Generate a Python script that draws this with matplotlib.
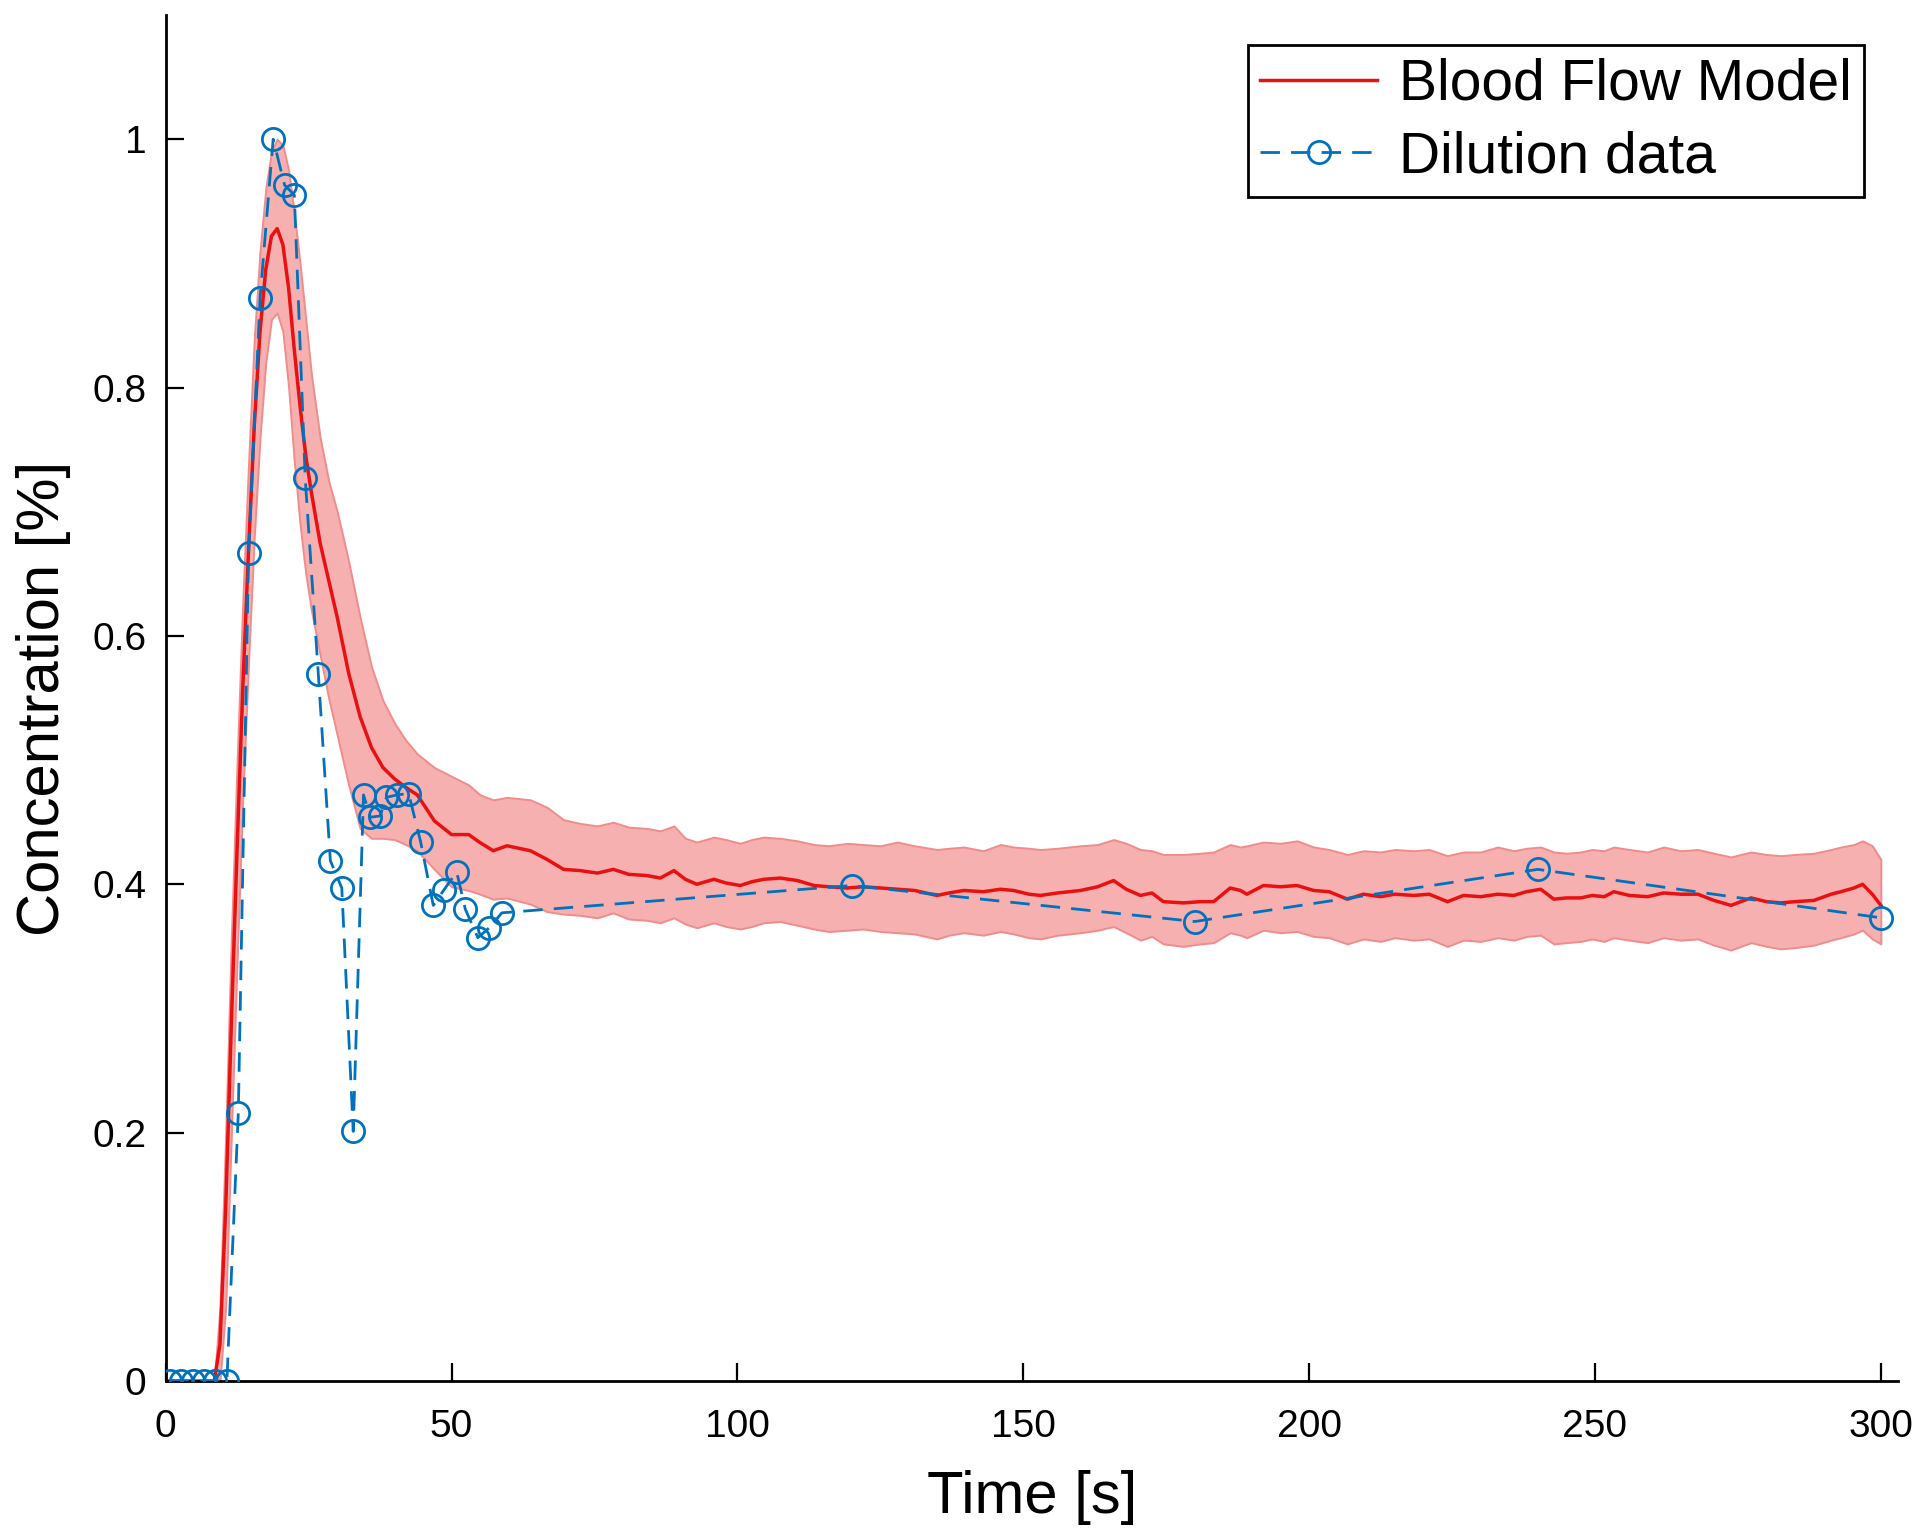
import matplotlib
matplotlib.use("Agg")
import matplotlib.pyplot as plt

# ---------------- data ----------------
model_t = [0, 8.5, 9.5, 10.5, 11.5, 12.5, 13.5, 14.5, 15.5, 16.5, 17.5, 18.5, 19.5, 20.5,
           21.5, 22.5, 23.5, 24.5, 25.5, 27, 28.5, 30, 32, 34, 36, 38, 40, 42, 44, 47, 50,
           53, 55, 57.3, 59.7, 63.8, 66.7, 69.6, 72.5, 75.5, 78.3, 81, 84.2, 86.5, 88.9,
           90.9, 92.9, 95.9, 98, 100.5, 102.5, 104.6, 107.5, 110.5, 113.4, 116, 119.2, 122,
           125, 128, 131, 134.9, 137, 139.6, 143, 146, 148.3, 151, 153, 156, 160, 163, 165.8,
           168, 170.5, 172.5, 174.5, 178, 181, 183.3, 186.2, 188, 189.1, 192, 195, 197.9,
           200.8, 203.5, 206.7, 209.5, 212.5, 215, 218.3, 221, 224.2, 227, 230, 233, 235.8,
           238, 240.5, 242.8, 245, 247.5, 249.5, 251.6, 253.3, 256, 259.2, 262, 265, 268,
           270.8, 273.8, 275.5, 277.3, 280, 282.5, 285, 288.3, 291.3, 293, 295.3, 296.8,
           298.5, 300]
model_mean = [0, 0, 0.03, 0.14, 0.29, 0.43, 0.56, 0.67, 0.77, 0.845, 0.895, 0.922, 0.928, 0.915,
              0.88, 0.83, 0.785, 0.745, 0.715, 0.675, 0.645, 0.615, 0.57, 0.535, 0.51, 0.494,
              0.485, 0.478, 0.472, 0.451, 0.44, 0.44, 0.4335, 0.427, 0.431, 0.427, 0.420,
              0.412, 0.411, 0.409, 0.412, 0.408, 0.407, 0.405, 0.411, 0.404, 0.400, 0.404,
              0.401, 0.399, 0.402, 0.404, 0.405, 0.403, 0.399, 0.398, 0.397, 0.398, 0.397,
              0.396, 0.395, 0.391, 0.393, 0.395, 0.394, 0.396, 0.395, 0.392, 0.391, 0.393,
              0.395, 0.398, 0.403, 0.396, 0.391, 0.393, 0.386, 0.385, 0.386, 0.386, 0.397,
              0.395, 0.392, 0.399, 0.398, 0.399, 0.395, 0.394, 0.388, 0.392, 0.390, 0.392,
              0.391, 0.392, 0.386, 0.391, 0.390, 0.392, 0.391, 0.394, 0.396, 0.388, 0.389,
              0.389, 0.391, 0.390, 0.394, 0.391, 0.390, 0.393, 0.392, 0.392, 0.387, 0.383,
              0.386, 0.389, 0.386, 0.385, 0.386, 0.387, 0.392, 0.394, 0.397, 0.400, 0.392,
              0.383]
model_upper = [0, 0, 0.06, 0.2, 0.36, 0.5, 0.63, 0.74, 0.84, 0.91, 0.96, 0.99, 1.0, 0.995,
               0.975, 0.94, 0.9, 0.855, 0.81, 0.76, 0.725, 0.7, 0.66, 0.615, 0.575, 0.548,
               0.53, 0.516, 0.505, 0.494, 0.487, 0.48, 0.472, 0.468, 0.47, 0.468, 0.462,
               0.452, 0.449, 0.447, 0.450, 0.446, 0.445, 0.443, 0.447, 0.437, 0.434, 0.438,
               0.436, 0.433, 0.436, 0.438, 0.437, 0.435, 0.432, 0.431, 0.433, 0.432, 0.431,
               0.434, 0.431, 0.428, 0.429, 0.430, 0.427, 0.432, 0.430, 0.429, 0.428, 0.429,
               0.431, 0.432, 0.436, 0.433, 0.428, 0.427, 0.424, 0.424, 0.425, 0.426, 0.432,
               0.430, 0.431, 0.434, 0.433, 0.435, 0.430, 0.428, 0.424, 0.427, 0.426, 0.428,
               0.427, 0.428, 0.423, 0.426, 0.426, 0.430, 0.427, 0.429, 0.430, 0.426, 0.425,
               0.426, 0.428, 0.427, 0.430, 0.428, 0.426, 0.430, 0.427, 0.428, 0.425, 0.422,
               0.424, 0.426, 0.424, 0.423, 0.424, 0.425, 0.428, 0.430, 0.432, 0.435, 0.431,
               0.420]
model_lower = [0, 0, 0, 0.06, 0.2, 0.34, 0.47, 0.58, 0.68, 0.76, 0.82, 0.855, 0.86, 0.845,
               0.8, 0.74, 0.69, 0.65, 0.62, 0.585, 0.55, 0.52, 0.48, 0.445, 0.437, 0.437,
               0.436, 0.432, 0.427, 0.412, 0.398, 0.395, 0.392, 0.388, 0.389, 0.384, 0.378,
               0.376, 0.375, 0.373, 0.377, 0.372, 0.371, 0.369, 0.373, 0.368, 0.365, 0.369,
               0.366, 0.364, 0.366, 0.369, 0.370, 0.367, 0.364, 0.362, 0.363, 0.364, 0.362,
               0.361, 0.360, 0.356, 0.359, 0.361, 0.359, 0.362, 0.360, 0.357, 0.356, 0.359,
               0.361, 0.363, 0.366, 0.361, 0.355, 0.358, 0.352, 0.350, 0.352, 0.353, 0.361,
               0.359, 0.357, 0.363, 0.361, 0.362, 0.358, 0.357, 0.352, 0.356, 0.354, 0.357,
               0.355, 0.356, 0.350, 0.355, 0.354, 0.357, 0.355, 0.358, 0.359, 0.352, 0.353,
               0.354, 0.356, 0.354, 0.357, 0.355, 0.353, 0.357, 0.355, 0.356, 0.351, 0.347,
               0.350, 0.353, 0.350, 0.348, 0.349, 0.351, 0.355, 0.357, 0.360, 0.363, 0.356,
               0.352]

dil_t = [0.7, 2.7, 4.7, 6.7, 8.7, 10.7, 12.7, 14.5, 16.5, 18.8, 20.8, 22.5, 24.4, 26.7,
         28.8, 30.8, 32.8, 34.6, 35.8, 37.5, 38.6, 40.5, 42.5, 44.6, 46.8, 48.6, 50.9,
         52.4, 54.6, 56.6, 58.8, 120, 180, 240, 300]
dil_c = [0, 0, 0, 0, 0, 0, 0.216, 0.667, 0.872, 1.0, 0.963, 0.955, 0.727, 0.569,
         0.419, 0.397, 0.201, 0.472, 0.454, 0.455, 0.470, 0.472, 0.473, 0.434, 0.383,
         0.395, 0.410, 0.380, 0.357, 0.365, 0.377, 0.399, 0.370, 0.412, 0.373]

series_labels = ["Blood Flow Model", "Dilution data"]
x_label = "Time [s]"
y_label = "Concentration [%]"

# ---------------- plot ----------------
plt.rcParams['font.family'] = ['Liberation Sans', 'DejaVu Sans']

fig = plt.figure(figsize=(19.2, 15.31), dpi=100)
ax = fig.add_axes([165.7 / 1920, 1 - 1381 / 1531, (1898 - 165.7) / 1920, (1381 - 15) / 1531])

ax.fill_between(model_t, model_lower, model_upper, facecolor='#f7b0b0',
                edgecolor='#f08c8c', linewidth=1.4, zorder=1)
ax.plot(model_t, model_mean, color='#e81010', linewidth=2.5, zorder=2,
        label=series_labels[0])
ax.plot(dil_t, dil_c, color='#0072BD', linewidth=2.0, linestyle='--', dashes=(7, 4),
        marker='o', markersize=16, markerfacecolor='none', markeredgewidth=2.0,
        zorder=3, label=series_labels[1])

ax.set_xlim(0, 303)
ax.set_ylim(0, 1.1)
ax.set_xticks([0, 50, 100, 150, 200, 250, 300])
ax.set_yticks([0, 0.2, 0.4, 0.6, 0.8, 1.0])
ax.set_yticklabels(['0', '0.2', '0.4', '0.6', '0.8', '1'])

for s in ['top', 'right']:
    ax.spines[s].set_visible(False)
for s in ['left', 'bottom']:
    ax.spines[s].set_linewidth(2.0)
ax.tick_params(direction='in', length=13, width=1.6, labelsize=28)
ax.tick_params(axis='x', pad=20)
ax.tick_params(axis='y', pad=14)

ax.set_xlabel(x_label, fontsize=43, labelpad=18)
ax.set_ylabel(y_label, fontsize=43, labelpad=15)

leg = ax.legend(loc='upper right', bbox_to_anchor=(1 - 34 / 1732, 1 - 30 / 1366),
                fontsize=41, frameon=True, fancybox=False, framealpha=1,
                edgecolor='black', handlelength=2.05, borderpad=0.22,
                labelspacing=0.33, handletextpad=0.38, borderaxespad=0)
leg.get_frame().set_linewidth(2.0)

fig.savefig('out.png', dpi=100)
